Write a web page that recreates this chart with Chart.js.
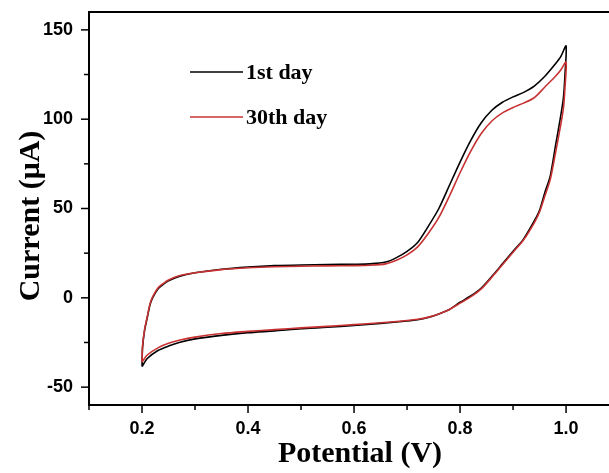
<!DOCTYPE html>
<html>
<head>
<meta charset="utf-8">
<script src="https://cdn.jsdelivr.net/npm/chart.js@4.4.1/dist/chart.umd.min.js"></script>
<style>
  html, body { margin: 0; padding: 0; background: #fff; }
  #wrap { width: 609px; height: 473px; position: relative; }
</style>
</head>
<body>
<div id="wrap"><canvas id="c" width="609" height="473"></canvas></div>
<script>
// Potential (V) along the cyclic sweep: forward 0.2 -> 1.0, then back 1.0 -> 0.2
const potential = [
  0.2, 0.201, 0.205, 0.21, 0.215, 0.22, 0.23, 0.24, 0.25, 0.27, 0.3, 0.35, 0.4, 0.45, 0.5, 0.55, 0.6, 0.63, 0.66, 0.68,
  0.7, 0.72, 0.74, 0.76, 0.78, 0.8, 0.82, 0.84, 0.86, 0.88, 0.9, 0.92, 0.94, 0.96, 0.98, 0.99, 1.0,
  0.998, 0.995, 0.99, 0.98, 0.97, 0.96, 0.95, 0.94, 0.92, 0.9, 0.88, 0.86, 0.84, 0.82, 0.8, 0.78, 0.76, 0.74, 0.72,
  0.7, 0.65, 0.6, 0.55, 0.5, 0.45, 0.4, 0.35, 0.3, 0.27, 0.25, 0.23, 0.21, 0.2
];
// Current (µA), 1st day
const currentDay1 = [
  -38.5, -28, -18, -11, -4, 0, 5, 7.5, 9.5, 12, 14, 16, 17.2, 18, 18.4, 18.6, 18.8, 19, 20, 22.5,
  26, 31, 40, 50, 63, 76, 88, 98, 105, 109.5, 112.5, 115, 118.5, 124, 131, 135, 141,
  125, 112, 102, 85, 68, 59, 49, 43, 33, 26, 19, 12, 5.5, 1, -2.5, -6.5, -9, -11, -12.3,
  -13, -14.3, -15.5, -16.5, -17.3, -18.5, -19.5, -21, -23, -25, -27, -29.5, -34, -38.5
];
// Current (µA), 30th day
const currentDay30 = [
  -36, -27, -17.5, -10.5, -3.5, 0.5, 5.5, 8, 10, 12.3, 14, 15.8, 16.8, 17.4, 17.7, 17.9, 18, 18.2, 19, 21,
  24, 28.5, 36, 45, 57, 70, 82, 92, 99, 103.5, 106.5, 109, 112, 118, 124, 127.5, 132,
  118, 106, 97, 81, 66, 57, 48, 42, 32.5, 25.5, 18.5, 11.5, 5, 0.5, -3, -6.5, -9, -10.8, -12,
  -12.7, -14, -15, -16, -16.8, -17.8, -18.8, -20, -22, -23.8, -25.5, -28, -32, -36
];
const seriesLabels = ['1st day', '30th day'];
const seriesColors = ['#000000', '#c83232'];
const xTitle = 'Potential (V)';
const yTitle = 'Current (\u03bcA)';

const toPts = (ys) => potential.map((x, i) => ({ x: x, y: ys[i] }));

const serif = "'Liberation Serif', 'Times New Roman', serif";
const sans = "'Liberation Sans', Arial, sans-serif";

const decorPlugin = {
  id: 'decor',
  afterDraw(chart) {
    const ctx = chart.ctx;
    const a = chart.chartArea;
    const xs = chart.scales.x, ys = chart.scales.y;
    ctx.save();
    ctx.strokeStyle = '#000';
    // top border
    ctx.lineWidth = 2;
    ctx.beginPath();
    ctx.moveTo(a.left - 1, a.top);
    ctx.lineTo(chart.width, a.top);
    ctx.stroke();
    // ticks
    ctx.lineWidth = 1.5;
    xs.ticks.forEach(t => {
      const k = Math.round(t.value * 10);
      if (Math.abs(t.value * 10 - k) > 1e-6) return;
      const len = (k % 2 === 0) ? 8 : 5;
      const px = xs.getPixelForValue(t.value);
      ctx.beginPath();
      ctx.moveTo(px, a.bottom);
      ctx.lineTo(px, a.bottom + len);
      ctx.stroke();
    });
    ys.ticks.forEach(t => {
      if (Math.abs(t.value % 25) > 1e-6) return;
      const len = (Math.abs(t.value % 50) < 1e-6) ? 8 : 5;
      const py = ys.getPixelForValue(t.value);
      ctx.beginPath();
      ctx.moveTo(a.left, py);
      ctx.lineTo(a.left - len, py);
      ctx.stroke();
    });
    // axis titles
    ctx.fillStyle = '#000';
    ctx.font = "bold 30px " + serif;
    ctx.textAlign = 'center';
    ctx.textBaseline = 'alphabetic';
    ctx.fillText(xTitle, 360, 462);
    ctx.save();
    ctx.translate(39, 216);
    ctx.rotate(-Math.PI / 2);
    ctx.fillText(yTitle, 0, 0);
    ctx.restore();
    // legend
    const legY = [72, 117];
    ctx.font = "bold 22px " + serif;
    ctx.textAlign = 'left';
    seriesLabels.forEach((lab, i) => {
      ctx.strokeStyle = seriesColors[i];
      ctx.lineWidth = 1.5;
      ctx.beginPath();
      ctx.moveTo(190, legY[i]);
      ctx.lineTo(243, legY[i]);
      ctx.stroke();
      ctx.fillStyle = '#000';
      ctx.fillText(lab, 246, legY[i] + 7);
    });
    ctx.restore();
  }
};

new Chart(document.getElementById('c'), {
  type: 'scatter',
  data: {
    datasets: [
      { label: seriesLabels[1], data: toPts(currentDay30), borderColor: seriesColors[1], borderWidth: 1.6, showLine: true, pointRadius: 0, tension: 0.25, fill: false },
      { label: seriesLabels[0], data: toPts(currentDay1), borderColor: seriesColors[0], borderWidth: 1.6, showLine: true, pointRadius: 0, tension: 0.25, fill: false }
    ]
  },
  options: {
    responsive: false,
    animation: false,
    layout: { padding: { top: 12, right: 0, left: 0, bottom: 0 } },
    plugins: { legend: { display: false }, tooltip: { enabled: false } },
    scales: {
      x: {
        type: 'linear', min: 0.1, max: 1.081,
        afterFit(s) { s.height = 68; s.paddingLeft = 0; s.paddingRight = 0; },
        grid: { display: false },
        border: { display: true, color: '#000', width: 2 },
        ticks: {
          stepSize: 0.1, autoSkip: false, includeBounds: false, maxRotation: 0, padding: 5, color: '#000',
          font: { family: sans, size: 18, weight: 'bold' },
          callback(v) {
            const k = Math.round(v * 10);
            if (Math.abs(v * 10 - k) > 1e-6 || k % 2 !== 0) return '';
            return (k / 10).toFixed(1);
          }
        }
      },
      y: {
        type: 'linear', min: -60, max: 160,
        afterFit(s) { s.width = 89; s.paddingTop = 0; s.paddingBottom = 0; },
        grid: { display: false },
        border: { display: true, color: '#000', width: 2 },
        ticks: {
          stepSize: 25, autoSkip: false, includeBounds: false, padding: 8, color: '#000',
          font: { family: sans, size: 18, weight: 'bold' },
          callback(v) {
            if (Math.abs(v % 50) > 1e-6) return '';
            return String(v);
          }
        }
      }
    }
  },
  plugins: [decorPlugin]
});
</script>
</body>
</html>
